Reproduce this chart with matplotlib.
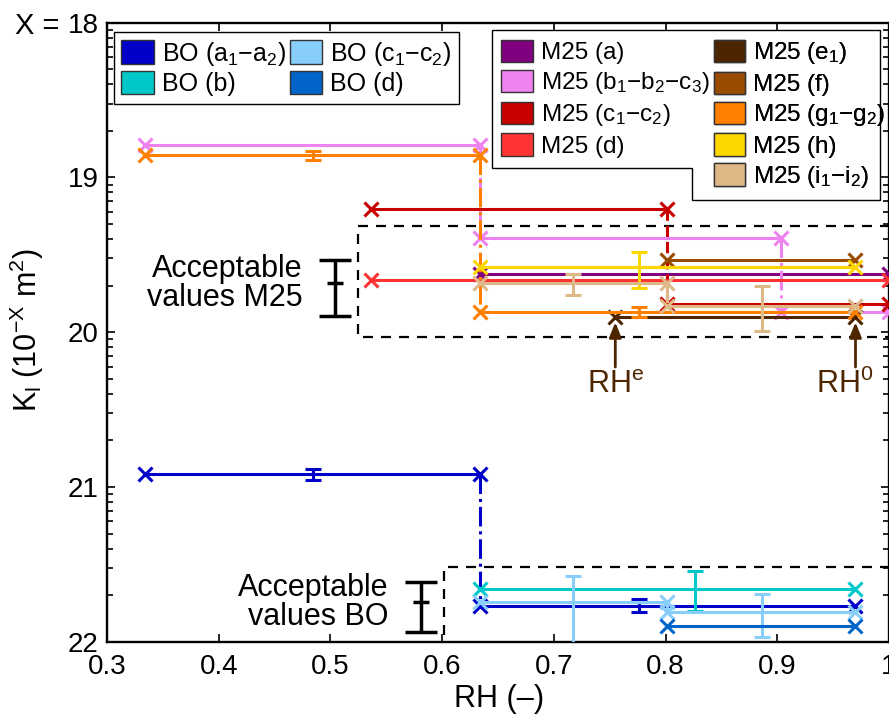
import numpy as np
import matplotlib
matplotlib.use('Agg')
import matplotlib.pyplot as plt
from matplotlib.patches import Patch, Polygon
from matplotlib.ticker import FuncFormatter, NullFormatter, FixedLocator

plt.rcParams['font.family'] = ['Liberation Sans', 'DejaVu Sans']
plt.rcParams['mathtext.default'] = 'regular'

# K_l = 10^-pk m^2, plateaus between RH start/end, errorbars as pk ranges
bo_a_start = [0.334, 0.634]; bo_a_end = [0.634, 0.970]; bo_a_pk = [20.918, 21.767]
bo_a_err_rh = [0.484, 0.776]; bo_a_err_lo = [20.885, 21.724]; bo_a_err_hi = [20.955, 21.810]

bo_b_start = [0.634]; bo_b_end = [0.970]; bo_b_pk = [21.659]
bo_b_err_rh = [0.826]; bo_b_err_lo = [21.546]; bo_b_err_hi = [21.804]

bo_c_start = [0.634, 0.801]; bo_c_end = [0.801, 0.970]; bo_c_pk = [21.742, 21.806]
bo_c_err_rh = [0.717, 0.886]; bo_c_err_lo = [21.575, 21.692]; bo_c_err_hi = [22.15, 21.968]

bo_d_start = [0.801]; bo_d_end = [0.970]; bo_d_pk = [21.899]

m_a_start = [0.634]; m_a_end = [1.0]; m_a_pk = [19.624]

m_b_start = [0.334, 0.634, 0.903]; m_b_end = [0.634, 0.903, 1.0]; m_b_pk = [18.791, 19.394, 19.870]

m_c_start = [0.536, 0.801]; m_c_end = [0.801, 1.0]; m_c_pk = [19.205, 19.818]

m_d_start = [0.536]; m_d_end = [1.0]; m_d_pk = [19.663]

m_e_start = [0.755]; m_e_end = [0.970]; m_e_pk = [19.904]

m_f_start = [0.801]; m_f_end = [0.970]; m_f_pk = [19.533]

m_g_start = [0.334, 0.634]; m_g_end = [0.634, 0.970]; m_g_pk = [18.858, 19.868]
m_g_err_rh = [0.484, 0.776]; m_g_err_lo = [18.83, 19.84]; m_g_err_hi = [18.89, 19.90]

m_h_start = [0.634]; m_h_end = [0.970]; m_h_pk = [19.581]
m_h_err_rh = [0.776]; m_h_err_lo = [19.480]; m_h_err_hi = [19.716]

m_i_start = [0.634, 0.801]; m_i_end = [0.801, 0.970]; m_i_pk = [19.684, 19.831]
m_i_err_rh = [0.717, 0.886]; m_i_err_lo = [19.624, 19.701]; m_i_err_hi = [19.760, 19.990]

# acceptable ranges
acc_rh = [0.504, 0.581]
acc_pk = [19.684, 21.745]
acc_lo = [19.533, 21.612]
acc_hi = [19.895, 21.935]
acc_text = ['Acceptable\nvalues M25', 'Acceptable\nvalues BO']
acc_text_rh = [0.475, 0.552]

box_m25 = [0.5245, 19.312, 20.029]
box_bo = [0.602, 21.515, 22.05]

rh_marks = [0.755, 0.970]
rh_mark_text_rh = [0.755, 0.960]
rh_mark_text = ['RH$^e$', 'RH$^0$']

c_bo = ['#0000C8', '#00C8C8', '#87CEFA', '#0064C8']
c_m = ['#800080', '#EE82EE', '#C80000', '#FF3333', '#4D2600', '#994C00', '#FF8000', '#FFD700', '#DEB887']

lab_bo = ['BO (a$_1$\u2212a$_2$)', 'BO (b)', 'BO (c$_1$\u2212c$_2$)', 'BO (d)']
lab_m = ['M25 (a)', 'M25 (b$_1$\u2212b$_2$\u2212c$_3$)', 'M25 (c$_1$\u2212c$_2$)', 'M25 (d)',
         'M25 (e$_1$)', 'M25 (f)', 'M25 (g$_1$\u2212g$_2$)', 'M25 (h)', 'M25 (i$_1$\u2212i$_2$)']

y_major = [18, 19, 20, 21, 22]


def K(pk):
    return 10.0 ** (-np.asarray(pk, dtype=float))


def series(ax, starts, ends, pks, color, conn='-.', err_rh=None, err_lo=None, err_hi=None, z=3):
    k = K(pks)
    for s, e, kk in zip(starts, ends, k):
        ax.plot([s, e], [kk, kk], '-', color=color, lw=2.2, marker='x', ms=10, mew=2.2, zorder=z)
    for i in range(len(pks) - 1):
        ax.plot([ends[i], ends[i]], [k[i], k[i + 1]], conn, color=color, lw=2.2, zorder=z)
    if err_rh is not None:
        lo = K(err_hi)
        hi = K(err_lo)
        mid = K((np.array(err_lo) + np.array(err_hi)) / 2)
        ax.errorbar(err_rh, mid, yerr=[mid - lo, hi - mid], fmt='none', ecolor=color,
                    elinewidth=2.2, capsize=5.8, capthick=2.2, zorder=z)


fig = plt.figure(figsize=(8.89, 7.16), dpi=100)
ax = fig.add_axes([107 / 889, 1 - 641.7 / 716, 782 / 889, 619 / 716])

series(ax, bo_a_start, bo_a_end, bo_a_pk, c_bo[0], '-.', bo_a_err_rh, bo_a_err_lo, bo_a_err_hi)
series(ax, bo_b_start, bo_b_end, bo_b_pk, c_bo[1], '-.', bo_b_err_rh, bo_b_err_lo, bo_b_err_hi)
series(ax, bo_c_start, bo_c_end, bo_c_pk, c_bo[2], '-.', bo_c_err_rh, bo_c_err_lo, bo_c_err_hi)
series(ax, bo_d_start, bo_d_end, bo_d_pk, c_bo[3])

series(ax, m_a_start, m_a_end, m_a_pk, c_m[0])
series(ax, m_b_start, m_b_end, m_b_pk, c_m[1], '-.')
series(ax, m_c_start, m_c_end, m_c_pk, c_m[2], '--')
series(ax, m_d_start, m_d_end, m_d_pk, c_m[3])
series(ax, m_e_start, m_e_end, m_e_pk, c_m[4])
series(ax, m_f_start, m_f_end, m_f_pk, c_m[5])
series(ax, m_g_start, m_g_end, m_g_pk, c_m[6], '-.', m_g_err_rh, m_g_err_lo, m_g_err_hi)
series(ax, m_h_start, m_h_end, m_h_pk, c_m[7], '-.', m_h_err_rh, m_h_err_lo, m_h_err_hi)
series(ax, m_i_start, m_i_end, m_i_pk, c_m[8], '-.', m_i_err_rh, m_i_err_lo, m_i_err_hi)

# acceptable values
kc = K(acc_pk)
ax.errorbar(acc_rh, kc, yerr=[kc - K(acc_hi), K(acc_lo) - kc], fmt='_', color='k', ms=12, mew=2.5,
            elinewidth=2.5, capsize=11.5, capthick=2.5, zorder=4)
for x, p, t in zip(acc_text_rh, acc_pk, acc_text):
    ax.text(x, K(p), t, ha='right', va='center', multialignment='right', fontsize=22, linespacing=0.95)

# dashed boxes
dash = dict(color='k', lw=1.6, ls=(0, (4.5, 3.6)), zorder=2)
ax.plot([1.05, box_m25[0], box_m25[0], 1.05], K([box_m25[1], box_m25[1], box_m25[2], box_m25[2]]), **dash)
ax.plot([1.05, box_bo[0], box_bo[0]], K([box_bo[1], box_bo[1], box_bo[2]]), **dash)

# RH^e / RH^0 arrows
for x, tx, t in zip(rh_marks, rh_mark_text_rh, rh_mark_text):
    ax.annotate('', xy=(x, K(19.935)), xytext=(x, K(20.225)),
                arrowprops=dict(arrowstyle='-|>,head_length=0.45,head_width=0.18', color=c_m[4], lw=2,
                                mutation_scale=20, shrinkA=0, shrinkB=0))
    ax.text(tx, K(20.395), t, ha='center', va='baseline', fontsize=22, color=c_m[4])

ax.set_yscale('log')
ax.set_xlim(0.3, 1.0)
ax.set_ylim(1e-22, 1e-18)
ax.xaxis.set_major_locator(FixedLocator([0.3, 0.4, 0.5, 0.6, 0.7, 0.8, 0.9, 1.0]))
ax.xaxis.set_major_formatter(FuncFormatter(lambda v, p: '%g' % round(v, 1)))
ax.yaxis.set_major_locator(FixedLocator(K(y_major)))
ax.yaxis.set_minor_locator(FixedLocator([k * 10.0 ** -e for e in y_major[1:] for k in range(2, 10)]))
ax.yaxis.set_major_formatter(FuncFormatter(lambda v, p: '%d' % round(-np.log10(v))))
ax.yaxis.set_minor_formatter(NullFormatter())
ax.tick_params(which='both', direction='in', top=True, right=True, labelsize=20, width=1.2)
ax.tick_params(which='major', length=6, pad=6)
ax.tick_params(axis='x', which='major', pad=9)
ax.tick_params(which='minor', length=4.5)
for s in ax.spines.values():
    s.set_linewidth(1.7)

ax.set_xlabel('RH (\u2013)', fontsize=22)
ax.set_ylabel('K$_l$ (10$^{-X}$ m$^2$)', fontsize=22)
ax.xaxis.set_label_coords(0.501, -0.068)
ax.yaxis.set_label_coords(-0.078, 0.503)
fig.text(59 / 889, 1 - 22.7 / 716, 'X =', ha='right', va='center_baseline', fontsize=21)

# legends
hb = [Patch(facecolor=c, edgecolor='#333333', lw=1) for c in c_bo]
hm = [Patch(facecolor=c, edgecolor='#333333', lw=1) for c in c_m]
leg_kw = dict(handlelength=1.3, handleheight=1.05, handletextpad=0.32,
              borderaxespad=0, bbox_transform=fig.transFigure, loc='upper left')
leg1 = ax.legend(hb, lab_bo, ncol=2, columnspacing=0.15, borderpad=0.3, labelspacing=0.15, fontsize=18,
                 frameon=True, fancybox=False, edgecolor='k', framealpha=1,
                 bbox_to_anchor=(114 / 889, 1 - 32 / 716), **leg_kw)
leg1.get_frame().set_linewidth(1)
ax.add_artist(leg1)
leg2 = ax.legend(hm[:4], lab_m[:4], borderpad=0.4, labelspacing=0.22, fontsize=17.5, frameon=False,
                 bbox_to_anchor=(491.7 / 889, 1 - 30 / 716), **leg_kw)
ax.add_artist(leg2)
leg3 = ax.legend(hm[4:], lab_m[4:], borderpad=0.4, labelspacing=0.22, fontsize=17.5, frameon=False,
                 bbox_to_anchor=(704 / 889, 1 - 30 / 716), **leg_kw)
ax.add_artist(leg3)

fig.canvas.draw()
inv = fig.transFigure.inverted()
b2 = leg2.get_window_extent().transformed(inv)
b3 = leg3.get_window_extent().transformed(inv)
top = max(b2.y1, b3.y1)
xr = min(880 / 889, b3.x1)
step_x = b3.x0 - 12 / 889
poly = Polygon([(b2.x0, top), (xr, top), (xr, b3.y0), (step_x, b3.y0), (step_x, b2.y0), (b2.x0, b2.y0)],
               closed=True, facecolor='white', edgecolor='k', lw=1, transform=fig.transFigure,
               clip_on=False, zorder=4.8)
ax.add_patch(poly)

fig.savefig('out.png', dpi=100)
